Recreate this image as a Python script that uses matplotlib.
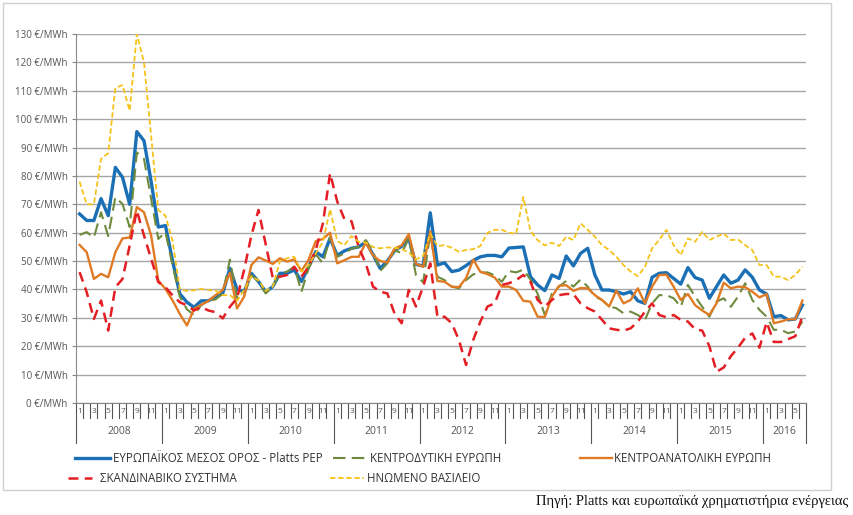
import matplotlib
matplotlib.use("Agg")
import matplotlib.pyplot as plt
from matplotlib.lines import Line2D
from matplotlib.patches import Rectangle
import numpy as np

# monthly prices, Jan 2008 - Jun 2016 (EUR/MWh)
years = [2008, 2009, 2010, 2011, 2012, 2013, 2014, 2015, 2016]

eu_avg = [66.6, 64.3, 64.3, 72, 66, 83, 79.5, 70, 95.6, 92.4, 78, 62,
          62.5, 50, 38.5, 35.5, 33.7, 36, 36, 37.5, 38.6, 47.5, 40, 39.2,
          45.7, 42.8, 39.2, 41, 45.7, 45.7, 46.9, 42.8, 48, 53.3, 51.5, 58,
          52, 53.6, 54.5, 55, 56.8, 52.3, 47.4, 50, 53.6, 55.2, 58, 48.8,
          48.3, 67, 48.6, 49.4, 46.3, 46.8, 48.4, 50.2, 51.5, 52, 52, 51.5,
          54.6, 54.8, 55, 44.5, 41.6, 39.6, 45.1, 43.9, 51.8, 48.3, 52.7, 54.5,
          45.1, 39.8, 39.8, 39.2, 38.4, 39.2, 36, 35.1, 44.3, 45.7, 45.9, 43.9,
          41.9, 47.7, 44.2, 43.3, 36.9, 41, 45.1, 42.2, 43.3, 46.9, 44.3, 39.8,
          38.4, 30.4, 30.8, 29.3, 29.6, 34.5]

cw_europe = [59.2, 60.2, 58.3, 67.2, 58.8, 72.5, 70.1, 62, 88.3, 86, 71.9, 57.8,
             60.2, 48.4, 37.5, 33, 31, 34.5, 36, 36.5, 38.5, 50.5, 37, 38,
             45.1, 42.7, 38.6, 41, 45.7, 46.3, 48, 39.2, 47.4, 52.4, 49.2, 58.5,
             51.5, 52.7, 54.4, 55, 57.4, 53.3, 46.5, 49.2, 53.9, 52.7, 58, 45.1,
             42.5, 59.7, 44.5, 43.3, 41, 40.4, 43.3, 45.3, 46, 46, 45, 42.7,
             46.5, 46, 47, 43.5, 38.5, 31, 38.6, 41, 43, 41, 43.5, 41,
             37.5, 36.3, 34, 33.4, 31.6, 32.2, 31, 29.3, 35.1, 38, 38, 36.9,
             33.9, 41.6, 37.5, 33.9, 30.4, 35.7, 36.9, 33.9, 37.5, 42.2, 36.3, 32.8,
             30.4, 25.8, 25.8, 24.6, 25.2, 28.7]

ce_europe = [55.7, 53.1, 43.7, 45.5, 44.3, 53.1, 58, 58.3, 69, 67.2, 59, 43.1,
             40.2, 36.1, 31.4, 27.3, 33.2, 34.6, 36, 38, 39.8, 45.9, 33.3, 37.5,
             48.6, 51.3, 50.2, 49, 51, 49.8, 50.6, 46.5, 50.5, 57, 57.8, 60,
             49.2, 50.3, 51.5, 51.5, 56.5, 52, 50, 49.5, 54.4, 55.5, 59.5, 49,
             48, 60.5, 43, 42.7, 41, 40.8, 44, 50.5, 46.2, 45.4, 44.2, 41,
             41, 39.8, 36, 35.7, 30.4, 30.3, 37.5, 41.3, 41.5, 39.5, 40.5, 40.4,
             38, 36.3, 34, 39.6, 35.1, 36.3, 40.4, 35.1, 41, 45.1, 45.2, 41,
             36.3, 38.4, 34.5, 32.6, 31, 35.1, 42.4, 40.4, 41, 40.8, 39.2, 37.2,
             38.4, 28.1, 28.7, 29.5, 29.5, 36.1]

nordic = [46.1, 39, 29.6, 36.1, 25.5, 40.8, 43.7, 55.5, 67.8, 59, 50.8, 42.6,
          40.8, 37.9, 35.5, 34.4, 32.6, 33.8, 32.6, 32, 29.8, 33.9, 36.9, 47,
          59, 68, 56, 44, 44.5, 45.1, 48, 44.5, 48, 53.9, 63.3, 80.9,
          71, 64.8, 64, 55, 49, 41, 39.2, 38.6, 31.6, 28.1, 39.8, 34,
          41, 49.2, 30.4, 30.4, 28.1, 22.2, 13.4, 22.2, 28.7, 34, 35.1, 41.6,
          42.2, 43.3, 45.1, 42.7, 36.3, 34, 36.3, 38, 38.4, 38.4, 35.1, 33.4,
          32.2, 29.3, 26.3, 25.8, 25.5, 26.3, 28.7, 32.2, 35.1, 31, 30.2, 31,
          29.3, 28.7, 26, 25.5, 20, 11, 12.5, 16.5, 19.5, 23, 24.5, 19.5,
          28.5, 21.5, 21.5, 22.5, 23.5, 30.5]

uk = [78, 70, 70, 86, 88, 111, 112, 103, 130, 120, 94, 68,
      66, 57, 40, 39.5, 39.7, 40.2, 39.8, 39.6, 38, 38, 36, 40,
      44.5, 43.3, 39.5, 41, 50, 51, 51.5, 46.3, 48.6, 52.7, 56.8, 68.2,
      57, 55.6, 58.8, 56.8, 56.5, 55, 54.5, 54.8, 54.7, 54.2, 53, 50.6,
      51.8, 59.7, 55.3, 55.6, 54.7, 53.3, 53.9, 54.2, 55.3, 60, 61, 61,
      60, 59.6, 72.6, 60.6, 57.4, 55.5, 56.5, 55.3, 58.6, 57.4, 63.3, 61,
      58.6, 55.6, 53.9, 51.5, 48.6, 46.3, 44.7, 48, 54.5, 57.5, 61, 55.6,
      52.1, 58, 56.8, 60.3, 57.4, 58.6, 59.7, 57.4, 57.6, 55.6, 53.9, 48.6,
      48.6, 44.5, 44.5, 43.3, 45.1, 48]

labels = ["ΕΥΡΩΠΑΪΚΟΣ ΜΕΣΟΣ ΟΡΟΣ - Platts PEP", "ΚΕΝΤΡΟΔΥΤΙΚΗ ΕΥΡΩΠΗ",
          "ΚΕΝΤΡΟΑΝΑΤΟΛΙΚΗ ΕΥΡΩΠΗ", "ΣΚΑΝΔΙΝΑΒΙΚΟ ΣΥΣΤΗΜΑ", "ΗΝΩΜΕΝΟ ΒΑΣΙΛΕΙΟ"]
source = "Πηγή: Platts και ευρωπαϊκά χρηματιστήρια ενέργειας"

W, H = 854, 515
plt.rcParams['font.family'] = ['Open Sans', 'DejaVu Sans']
fig = plt.figure(figsize=(W / 100, H / 100), dpi=100)

def fx(px):
    return px / W

def fy(py):
    return 1 - py / H

# outer frame
fig.add_artist(Rectangle((fx(3), fy(490)), fx(831) - fx(3), fy(3) - fy(490),
                         transform=fig.transFigure, fill=False,
                         edgecolor='#D0D0D0', lw=1))

ax = fig.add_axes([fx(76), fy(403), fx(806) - fx(76), fy(34) - fy(403)])
n = len(eu_avg)
x = np.arange(n)

styles = [
    dict(color='#1B6FB5', lw=2.4, ls='-'),
    dict(color='#6E8B3D', lw=1.5, ls=(0, (6, 3))),
    dict(color='#E07B25', lw=1.7, ls='-'),
    dict(color='#E31E24', lw=1.8, ls=(0, (4, 2.5))),
    dict(color='#F5C31C', lw=1.3, ls=(0, (3, 1.5))),
]
series = [eu_avg, cw_europe, ce_europe, nordic, uk]
for s, st in zip(series, styles):
    ax.plot(x, s, **st)

ax.set_xlim(-0.5, n - 0.5)
ax.set_ylim(0, 130)
ax.set_yticks(np.arange(0, 131, 10))
ax.set_yticklabels([f"{v} €/MWh" for v in range(0, 131, 10)],
                   fontsize=7, color='#555555')
ax.tick_params(axis='y', length=3, color='#888888', pad=3)
ax.grid(axis='y', color='#A6A6A6', lw=1)
ax.set_axisbelow(True)
ax.set_xticks([])
for sp in ['top', 'right']:
    ax.spines[sp].set_visible(False)
for sp in ['left', 'bottom']:
    ax.spines[sp].set_color('#888888')

# category axis: month separators, month numbers and years
tr = ax.get_xaxis_transform()
for k in range(n + 1):
    long_tick = k % 12 == 0 or k == n
    ax.plot([k - 0.5, k - 0.5], [0, -0.108 if long_tick else -0.042],
            transform=tr, color='#555555', lw=0.8, clip_on=False)
for k in range(0, n, 2):
    ax.text(k, -0.022, str(k % 12 + 1), transform=tr, ha='center', va='center',
            fontsize=6, color='#555555')
for j, yr in enumerate(years):
    start = j * 12
    end = min(start + 12, n)
    ax.text((start + end - 1) / 2, -0.077, str(yr), transform=tr,
            ha='center', va='center', fontsize=7.5, color='#555555')

# legend
leg_line = [(75, 110), (333, 367), (580, 612), (68, 92), (330, 364)]
leg_text = [113, 370, 614, 100, 367]
leg_y = [458, 458, 458, 478, 478]
for (x0, x1), tx, py, st, lab in zip(leg_line, leg_text, leg_y, styles, labels):
    fig.add_artist(Line2D([fx(x0), fx(x1)], [fy(py), fy(py)],
                          transform=fig.transFigure, color=st['color'],
                          lw=st['lw'], ls=st['ls']))
    fig.text(fx(tx), fy(py), lab, fontsize=8.3, color='#333333',
             va='center', ha='left')

fig.text(fx(848), fy(501), source, fontsize=10.5, family='Liberation Serif',
         ha='right', va='center', color='#111111')

fig.savefig("out.png", dpi=100)
